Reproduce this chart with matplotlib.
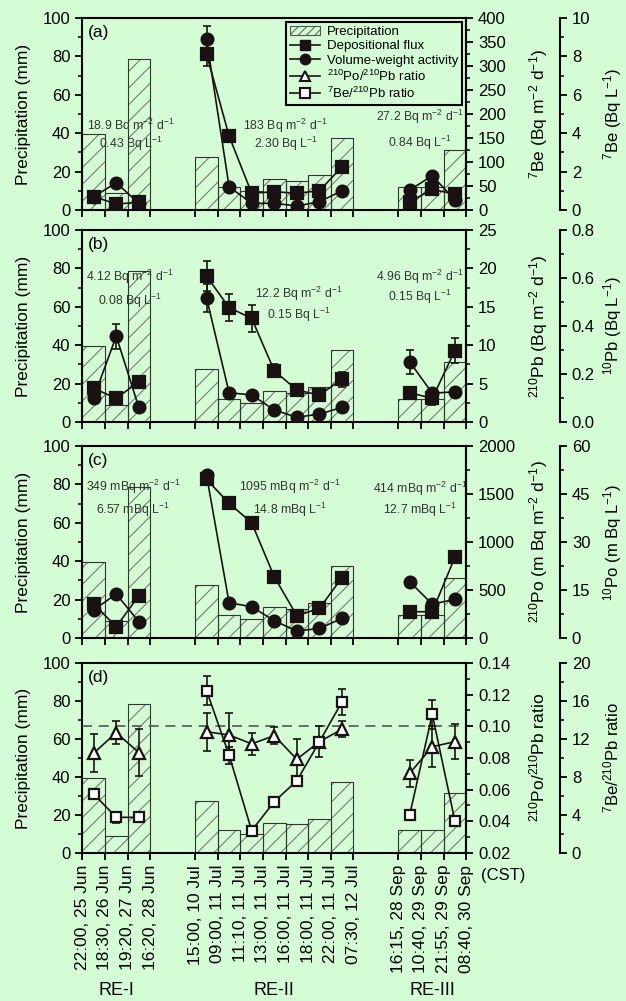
import numpy as np
import matplotlib
matplotlib.use('Agg')
import matplotlib.pyplot as plt
from matplotlib.ticker import MultipleLocator, FormatStrFormatter
from matplotlib.patches import Patch
from matplotlib.lines import Line2D

plt.rcParams['font.family'] = ['Liberation Sans', 'DejaVu Sans']
plt.rcParams['mathtext.default'] = 'regular'
plt.rcParams['hatch.linewidth'] = 0.7

# sampling events, bin edges given as time stamps
events = ['RE-I', 'RE-II', 'RE-III']
re1_times = ['22:00, 25 Jun', '18:30, 26 Jun', '19:20, 27 Jun', '16:20, 28 Jun']
re2_times = ['15:00, 10 Jul', '09:00, 11 Jul', '11:10, 11 Jul', '13:00, 11 Jul',
             '16:00, 11 Jul', '18:00, 11 Jul', '22:00, 11 Jul', '07:30, 12 Jul']
re3_times = ['16:15, 28 Sep', '10:40, 29 Sep', '21:55, 29 Sep', '08:40, 30 Sep']

# precipitation per interval (mm)
precip = [39.5, 9, 78.5, 27.5, 12, 10, 16, 15, 18, 37.5, 12, 12, 31.5]

# (a) 7Be
be7_flux = [28, 12.5, 16, 325, 154, 35, 38, 35, 40, 90, 17, 43, 33]
be7_flux_err = [0, 0, 0, 26, 13, 0, 0, 0, 0, 0, 0, 0, 0]
be7_conc = [0.69, 1.42, 0.35, 8.89, 1.21, 0.35, 0.35, 0.21, 0.43, 1.0, 1.04, 1.79, 0.52]
be7_conc_err = [0, 0, 0, 0.7, 0, 0, 0, 0, 0, 0, 0, 0, 0]

# (b) 210Pb
pb_flux = [4.39, 3.08, 5.25, 19.0, 14.9, 13.5, 6.68, 4.17, 3.52, 5.56, 3.82, 3.08, 9.29]
pb_flux_err = [0.3, 0, 0.3, 2.0, 1.75, 1.8, 0.87, 0.3, 0, 1.0, 0.3, 0.9, 1.6]
pb_conc = [0.101, 0.358, 0.061, 0.518, 0.122, 0.113, 0.05, 0.02, 0.033, 0.061, 0.251, 0.12, 0.126]
pb_conc_err = [0, 0.052, 0, 0.058, 0, 0, 0, 0, 0, 0, 0.049, 0, 0]

# (c) 210Po
po_flux = [354, 118, 441, 1653, 1403, 1201, 639, 233, 309, 628, 274, 274, 840]
po_flux_err = [0, 0, 0, 0, 0, 0, 0, 0, 0, 0, 0, 0, 60]
po_conc = [8.75, 13.75, 5.1, 50.9, 11.0, 9.8, 5.4, 2.19, 3.0, 6.15, 17.6, 10.6, 12.1]
po_conc_err = [0] * 13

# (d) ratios
popb_ratio = [0.083, 0.096, 0.0834, 0.0966, 0.0945, 0.0889, 0.0941, 0.0792, 0.0903, 0.0981,
              0.0703, 0.0871, 0.0903]
popb_err = [0.012, 0.0075, 0.015, 0.012, 0.014, 0.007, 0.0056, 0.0128, 0.01, 0.005,
            0.0087, 0.013, 0.011]
bepb_ratio = [6.2, 3.75, 3.75, 17.1, 10.3, 2.35, 5.4, 7.6, 11.7, 15.9, 4.0, 14.6, 3.4]
bepb_err = [0.4, 0.6, 0, 1.5, 0.9, 0, 0, 0.5, 0, 1.35, 0, 1.5, 0]

# event mean values written in the panels
flux_text_a = ['18.9 Bq m$^{-2}$ d$^{-1}$', '183 Bq m$^{-2}$ d$^{-1}$', '27.2 Bq m$^{-2}$ d$^{-1}$']
conc_text_a = ['0.43 Bq L$^{-1}$', '2.30 Bq L$^{-1}$', '0.84 Bq L$^{-1}$']
flux_text_b = ['4.12 Bq m$^{-2}$ d$^{-1}$', '12.2 Bq m$^{-2}$ d$^{-1}$', '4.96 Bq m$^{-2}$ d$^{-1}$']
conc_text_b = ['0.08 Bq L$^{-1}$', '0.15 Bq L$^{-1}$', '0.15 Bq L$^{-1}$']
flux_text_c = ['349 mBq m$^{-2}$ d$^{-1}$', '1095 mBq m$^{-2}$ d$^{-1}$', '414 mBq m$^{-2}$ d$^{-1}$']
conc_text_c = ['6.57 mBq L$^{-1}$', '14.8 mBq L$^{-1}$', '12.7 mBq L$^{-1}$']

bg = '#d5fdd5'
ink = '#1a1212'

# x layout: events separated by a gap of 2 intervals
gap = 2
edges_list = []
start = 0
for t in [re1_times, re2_times, re3_times]:
    edges_list.append(start + np.arange(len(t)))
    start += len(t) - 1 + gap
all_edges = np.concatenate(edges_list)
all_labels = re1_times + re2_times + re3_times
xmax = edges_list[-1][-1]
mids = np.concatenate([(e[:-1] + e[1:]) / 2.0 for e in edges_list])
lefts = np.concatenate([e[:-1] for e in edges_list])
sizes = [len(e) - 1 for e in edges_list]
bounds = np.cumsum([0] + sizes)
centers = [(e[0] + e[-1]) / 2.0 for e in edges_list]


def style_axis(ax, lim, major, minor, fmt=None):
    ax.set_ylim(*lim)
    ax.yaxis.set_major_locator(MultipleLocator(major))
    ax.yaxis.set_minor_locator(MultipleLocator(minor))
    if fmt:
        ax.yaxis.set_major_formatter(FormatStrFormatter(fmt))
    ax.tick_params(axis='y', which='major', direction='out', length=5, width=1.3, labelsize=12)
    ax.tick_params(axis='y', which='minor', direction='out', length=3, width=1.1)


def draw_series(ax, y, err, marker, filled, ms):
    y = np.asarray(y, float)
    err = np.asarray(err, float)
    for i0, i1 in zip(bounds[:-1], bounds[1:]):
        ax.plot(mids[i0:i1], y[i0:i1], '-', color=ink, lw=1.2, marker=marker, ms=ms,
                mfc=ink if filled else 'white', mec=ink, mew=1.6, zorder=3)
    m = err > 0
    if m.any():
        ax.errorbar(mids[m], y[m], yerr=err[m], fmt='none', ecolor=ink, elinewidth=1.2,
                    capsize=3, capthick=1.2, zorder=2)


def put_texts(ax, xs, ys_flux, ys_conc, flux_txt, conc_txt):
    for j in range(len(xs)):
        ax.text(xs[j], ys_flux[j], flux_txt[j], ha='center', va='center', fontsize=8.8, color='#333')
        ax.text(xs[j], ys_conc[j], conc_txt[j], ha='center', va='center', fontsize=8.8, color='#333')


fig = plt.figure(figsize=(6.26, 10.01), dpi=100, facecolor=bg)
L, W = 0.1316, 0.613
panel_bottoms = [0.7902, 0.5784, 0.3626, 0.1479]
panel_heights = [0.1918, 0.1918, 0.1918, 0.1898]

axes = []
for i in range(4):
    ax = fig.add_axes([L, panel_bottoms[i], W, panel_heights[i]])
    ax.set_facecolor('none')
    # precipitation bars (hatch in grey, outline in black)
    ax.bar(lefts, precip, width=1.0, align='edge', color='none', edgecolor='#6a6a6a',
           hatch='//', linewidth=0, zorder=1)
    ax.bar(lefts, precip, width=1.0, align='edge', fill=False, edgecolor='#333333',
           linewidth=0.8, zorder=1)
    ax.set_xlim(0, xmax)
    style_axis(ax, (0, 100), 20, 10)
    ax.set_ylabel('Precipitation (mm)', fontsize=12.5)
    ax.yaxis.set_label_coords(-0.135, 0.5)
    ax.set_xticks(all_edges)
    ax.tick_params(axis='x', direction='out', length=5, width=1.3)
    if i == 3:
        ax.set_xticklabels(all_labels, rotation=90, fontsize=12.5)
    else:
        ax.set_xticklabels([])
    for s in ax.spines.values():
        s.set_linewidth(1.5)
    ax.text(0.015, 0.965, '(%s)' % 'abcd'[i], transform=ax.transAxes, fontsize=12.5,
            va='top', ha='left')

    ax1 = ax.twinx()
    ax2 = ax.twinx()
    ax2.spines['right'].set_position(('axes', 1.2447))
    for a in (ax1, ax2):
        for k in ('left', 'top', 'bottom'):
            a.spines[k].set_visible(False)
        a.spines['right'].set_linewidth(1.5)
    axes.append((ax, ax1, ax2))

# (a)
ax, ax1, ax2 = axes[0]
style_axis(ax1, (0, 400), 50, 25)
style_axis(ax2, (0, 10), 2, 1)
draw_series(ax1, be7_flux, be7_flux_err, 's', True, 8)
draw_series(ax2, be7_conc, be7_conc_err, 'o', True, 8.5)
ax1.set_ylabel('$^{7}$Be (Bq m$^{-2}$ d$^{-1}$)', fontsize=12.5)
ax2.set_ylabel('$^{7}$Be (Bq L$^{-1}$)', fontsize=12)
put_texts(ax, [2.15, 9.0, 14.95], [44, 44, 48.5], [34.5, 34.5, 35], flux_text_a, conc_text_a)

handles = [Patch(facecolor='none', edgecolor='#555555', hatch='////', linewidth=0.8),
           Line2D([], [], color=ink, lw=1.2, marker='s', ms=7, mfc=ink, mec=ink),
           Line2D([], [], color=ink, lw=1.2, marker='o', ms=7.5, mfc=ink, mec=ink),
           Line2D([], [], color=ink, lw=1.2, marker='^', ms=7.5, mfc='white', mec=ink, mew=1.5),
           Line2D([], [], color=ink, lw=1.2, marker='s', ms=6.5, mfc='white', mec=ink, mew=1.5)]
labels = ['Precipitation', 'Depositional flux', 'Volume-weight activity',
          '$^{210}$Po/$^{210}$Pb ratio', '$^{7}$Be/$^{210}$Pb ratio']
leg = ax2.legend(handles, labels, loc='upper right', bbox_to_anchor=(0.989, 0.979),
                 bbox_transform=ax.transAxes, fontsize=9.5, frameon=True, fancybox=False,
                 edgecolor='black', facecolor=bg, framealpha=1, labelspacing=0.15,
                 borderpad=0.3, handlelength=2.3, handletextpad=0.5, borderaxespad=0)
leg.get_frame().set_linewidth(1.5)
leg.set_zorder(10)

# (b)
ax, ax1, ax2 = axes[1]
style_axis(ax1, (0, 25), 5, 2.5)
style_axis(ax2, (0, 0.8), 0.2, 0.1, '%.1f')
draw_series(ax1, pb_flux, pb_flux_err, 's', True, 8)
draw_series(ax2, pb_conc, pb_conc_err, 'o', True, 8.5)
ax1.set_ylabel('$^{210}$Pb (Bq m$^{-2}$ d$^{-1}$)', fontsize=12.5)
ax2.set_ylabel('$^{10}$Pb (Bq L$^{-1}$)', fontsize=12)
put_texts(ax, [2.1, 9.6, 14.95], [75.5, 66.5, 75.5], [63, 56, 65], flux_text_b, conc_text_b)

# (c)
ax, ax1, ax2 = axes[2]
style_axis(ax1, (0, 2000), 500, 250)
style_axis(ax2, (0, 60), 15, 7.5)
draw_series(ax1, po_flux, po_flux_err, 's', True, 8)
draw_series(ax2, po_conc, po_conc_err, 'o', True, 8.5)
ax1.set_ylabel('$^{210}$Po (m Bq m$^{-2}$ d$^{-1}$)', fontsize=12.5)
ax2.set_ylabel('$^{10}$Po (m Bq L$^{-1}$)', fontsize=12)
put_texts(ax, [2.25, 9.2, 14.95], [78.5, 78.5, 77.5], [67, 67, 66.5], flux_text_c, conc_text_c)

# (d)
ax, ax1, ax2 = axes[3]
style_axis(ax1, (0.02, 0.14), 0.02, 0.01, '%.2f')
style_axis(ax2, (0, 20), 4, 2)
ax1.axhline(0.10, color='#555555', lw=1.2, ls=(0, (6, 4)), zorder=1)
draw_series(ax1, popb_ratio, popb_err, '^', False, 9)
draw_series(ax2, bepb_ratio, bepb_err, 's', False, 7)
ax1.set_ylabel('$^{210}$Po/$^{210}$Pb ratio', fontsize=12.5)
ax2.set_ylabel('$^{7}$Be/$^{210}$Pb ratio', fontsize=12)
ax.text(1.039, -0.12, '(CST)', transform=ax.transAxes, fontsize=12, ha='left', va='center')
for j, name in enumerate(events):
    ax.text(centers[j], -0.726, name, transform=ax.get_xaxis_transform(), fontsize=13,
            ha='center', va='center')

for ax, ax1, ax2 in axes:
    ax1.yaxis.set_label_coords(1.16, 0.5)
    ax2.yaxis.set_label_coords(1.352, 0.5)

fig.savefig('out.png', dpi=100, facecolor=bg)
